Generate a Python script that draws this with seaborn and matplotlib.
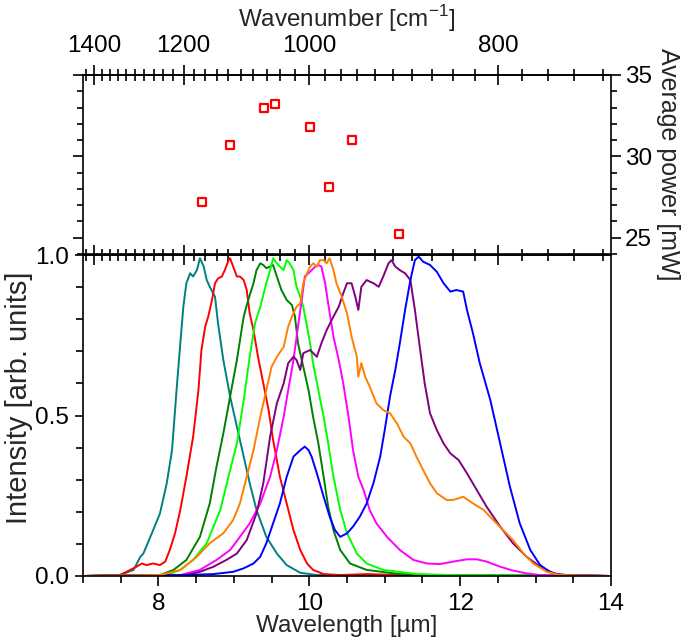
import numpy as np
import matplotlib
matplotlib.use("Agg")
import matplotlib.pyplot as plt
from matplotlib import font_manager
from matplotlib.ticker import FixedLocator, MultipleLocator, FormatStrFormatter
import seaborn as sns

# --- Average power vs. wavelength (top panel) ---
power_wl = [8.58, 8.95, 9.40, 9.54, 10.01, 10.26, 10.57, 11.19]
power_mw = [27.2, 30.7, 33.0, 33.2, 31.8, 28.1, 31.0, 25.2]

# --- Normalized spectra (bottom panel) ---
teal_wl = [7.0, 7.49, 7.67, 7.76, 7.80, 7.93, 8.02, 8.11, 8.18, 8.24, 8.29, 8.33, 8.37, 8.42, 8.46, 8.51, 8.55,
           8.60, 8.64, 8.68, 8.75, 8.79, 8.86, 8.95, 9.04, 9.13, 9.21, 9.30, 9.43, 9.57, 9.70, 9.88, 10.10, 14.0]
teal_i = [0.0, 0.003, 0.019, 0.060, 0.070, 0.143, 0.195, 0.289, 0.392, 0.579, 0.725, 0.839, 0.912, 0.943, 0.933,
          0.953, 0.990, 0.964, 0.922, 0.901, 0.870, 0.787, 0.673, 0.559, 0.465, 0.372, 0.289, 0.206, 0.122, 0.070,
          0.034, 0.010, 0.003, 0.0]

red_wl = [7.0, 7.49, 7.71, 7.78, 7.84, 7.93, 8.02, 8.09, 8.15, 8.22, 8.29, 8.37, 8.46, 8.53, 8.57, 8.62, 8.66, 8.71,
          8.75, 8.79, 8.84, 8.88, 8.93, 8.95, 8.99, 9.04, 9.08, 9.13, 9.17, 9.21, 9.26, 9.32, 9.39, 9.46, 9.52, 9.61,
          9.70, 9.79, 9.88, 9.97, 10.05, 10.19, 10.41, 10.76, 11.20, 14.0]
red_i = [0.0, 0.003, 0.029, 0.039, 0.034, 0.039, 0.034, 0.045, 0.081, 0.133, 0.206, 0.309, 0.434, 0.579, 0.704, 0.777,
         0.808, 0.860, 0.912, 0.927, 0.933, 0.953, 0.984, 0.990, 0.964, 0.933, 0.933, 0.922, 0.891, 0.818, 0.766,
         0.683, 0.600, 0.517, 0.424, 0.309, 0.226, 0.143, 0.081, 0.039, 0.019, 0.006, 0.003, 0.006, 0.003, 0.0]

green_wl = [7.0, 8.02, 8.20, 8.37, 8.55, 8.68, 8.77, 8.86, 8.95, 9.04, 9.13, 9.19, 9.26, 9.30, 9.35, 9.39, 9.43, 9.48,
            9.52, 9.57, 9.63, 9.70, 9.77, 9.81, 9.85, 9.92, 9.99, 10.05, 10.12, 10.19, 10.25, 10.32, 10.41, 10.54,
            10.76, 11.20, 11.64, 14.0]
green_i = [0.0, 0.003, 0.019, 0.050, 0.122, 0.226, 0.341, 0.444, 0.559, 0.673, 0.808, 0.860, 0.912, 0.953, 0.974,
           0.969, 0.959, 0.964, 0.969, 0.933, 0.891, 0.860, 0.844, 0.808, 0.725, 0.652, 0.579, 0.496, 0.413, 0.309,
           0.216, 0.143, 0.081, 0.039, 0.019, 0.006, 0.003, 0.0]

lime_wl = [7.0, 8.11, 8.29, 8.46, 8.64, 8.82, 8.95, 9.04, 9.13, 9.21, 9.28, 9.35, 9.43, 9.48, 9.52, 9.57, 9.61, 9.66,
           9.70, 9.74, 9.79, 9.83, 9.88, 9.92, 9.97, 10.01, 10.05, 10.12, 10.19, 10.25, 10.32, 10.41, 10.50, 10.63,
           10.76, 10.98, 11.42, 11.87, 14.0]
lime_i = [0.0, 0.003, 0.019, 0.050, 0.102, 0.206, 0.330, 0.413, 0.548, 0.683, 0.787, 0.839, 0.912, 0.953, 0.990,
          0.974, 0.964, 0.953, 0.984, 0.974, 0.953, 0.901, 0.870, 0.839, 0.777, 0.725, 0.663, 0.579, 0.496, 0.413,
          0.309, 0.206, 0.133, 0.070, 0.039, 0.019, 0.006, 0.003, 0.0]

magenta_wl = [7.0, 8.29, 8.55, 8.77, 8.95, 9.08, 9.21, 9.35, 9.48, 9.57, 9.66, 9.72, 9.79, 9.85, 9.90, 9.94, 10.01,
              10.08, 10.12, 10.16, 10.21, 10.25, 10.32, 10.39, 10.45, 10.52, 10.58, 10.65, 10.72, 10.80, 10.89, 11.03,
              11.20, 11.38, 11.56, 11.73, 11.91, 12.09, 12.22, 12.35, 12.53, 12.70, 12.88, 13.06, 14.0]
magenta_i = [0.0, 0.003, 0.019, 0.050, 0.081, 0.122, 0.164, 0.226, 0.309, 0.392, 0.496, 0.579, 0.673, 0.777, 0.860,
             0.933, 0.948, 0.964, 0.969, 0.964, 0.912, 0.849, 0.746, 0.673, 0.600, 0.496, 0.392, 0.309, 0.268, 0.206,
             0.164, 0.122, 0.081, 0.050, 0.039, 0.037, 0.045, 0.052, 0.052, 0.045, 0.029, 0.017, 0.008, 0.003, 0.0]

purple_wl = [7.0, 8.37, 8.55, 8.73, 8.90, 9.04, 9.17, 9.30, 9.39, 9.48, 9.57, 9.66, 9.72, 9.79, 9.83, 9.88, 9.92,
             10.01, 10.10, 10.16, 10.23, 10.32, 10.39, 10.45, 10.50, 10.56, 10.61, 10.65, 10.69, 10.76, 10.85, 10.92,
             10.98, 11.05, 11.09, 11.14, 11.20, 11.27, 11.34, 11.40, 11.47, 11.53, 11.60, 11.69, 11.78, 11.87, 11.98,
             12.09, 12.22, 12.35, 12.53, 12.70, 12.88, 13.06, 13.24, 13.41, 14.0]
purple_i = [0.0, 0.003, 0.013, 0.029, 0.050, 0.070, 0.112, 0.195, 0.289, 0.434, 0.538, 0.600, 0.663, 0.683, 0.673,
            0.642, 0.694, 0.704, 0.683, 0.725, 0.766, 0.808, 0.839, 0.881, 0.912, 0.912, 0.870, 0.829, 0.901, 0.922,
            0.912, 0.901, 0.933, 0.974, 0.984, 0.964, 0.953, 0.943, 0.922, 0.829, 0.704, 0.600, 0.507, 0.455, 0.413,
            0.382, 0.361, 0.320, 0.268, 0.216, 0.154, 0.102, 0.060, 0.029, 0.008, 0.003, 0.0]

blue_wl = [7.0, 8.37, 8.73, 8.99, 9.13, 9.26, 9.35, 9.43, 9.52, 9.61, 9.70, 9.79, 9.88, 9.94, 9.99, 10.03, 10.10,
           10.19, 10.27, 10.34, 10.41, 10.50, 10.58, 10.67, 10.76, 10.85, 10.94, 11.00, 11.07, 11.14, 11.20, 11.27,
           11.34, 11.40, 11.45, 11.51, 11.60, 11.69, 11.78, 11.87, 11.95, 12.04, 12.09, 12.17, 12.26, 12.40, 12.53,
           12.66, 12.79, 12.93, 13.06, 13.19, 13.32, 14.0]
blue_i = [0.0, 0.003, 0.006, 0.013, 0.024, 0.039, 0.060, 0.102, 0.164, 0.226, 0.309, 0.372, 0.392, 0.403, 0.392,
          0.372, 0.320, 0.247, 0.185, 0.143, 0.122, 0.133, 0.154, 0.185, 0.226, 0.289, 0.372, 0.455, 0.559, 0.642,
          0.725, 0.829, 0.922, 0.984, 0.995, 0.979, 0.969, 0.948, 0.912, 0.886, 0.891, 0.886, 0.829, 0.756, 0.663,
          0.548, 0.413, 0.278, 0.164, 0.081, 0.034, 0.013, 0.003, 0.0]

orange_wl = [7.0, 8.02, 8.29, 8.51, 8.68, 8.86, 8.99, 9.08, 9.17, 9.26, 9.35, 9.43, 9.50, 9.57, 9.66, 9.72, 9.77,
             9.83, 9.88, 9.92, 9.97, 10.01, 10.05, 10.10, 10.14, 10.19, 10.23, 10.27, 10.32, 10.36, 10.43, 10.50,
             10.56, 10.63, 10.65, 10.69, 10.74, 10.80, 10.89, 10.98, 11.07, 11.16, 11.25, 11.34, 11.42, 11.51, 11.60,
             11.69, 11.82, 11.91, 12.04, 12.17, 12.31, 12.44, 12.57, 12.70, 12.84, 12.97, 13.15, 13.32, 14.0]
orange_i = [0.0, 0.003, 0.019, 0.060, 0.102, 0.133, 0.174, 0.226, 0.309, 0.392, 0.496, 0.579, 0.652, 0.683, 0.714,
            0.777, 0.808, 0.839, 0.849, 0.912, 0.943, 0.964, 0.974, 0.964, 0.984, 0.984, 0.974, 0.990, 0.953, 0.912,
            0.870, 0.818, 0.746, 0.683, 0.621, 0.663, 0.621, 0.590, 0.538, 0.517, 0.507, 0.476, 0.434, 0.413, 0.372,
            0.330, 0.289, 0.258, 0.237, 0.237, 0.247, 0.226, 0.206, 0.174, 0.143, 0.112, 0.070, 0.039, 0.013, 0.003,
            0.0]

spectra = [
    (teal_wl, teal_i, "#008080"),
    (red_wl, red_i, "#ff0000"),
    (green_wl, green_i, "#008000"),
    (lime_wl, lime_i, "#00ff00"),
    (magenta_wl, magenta_i, "#ff00ff"),
    (purple_wl, purple_i, "#800080"),
    (blue_wl, blue_i, "#0000ff"),
    (orange_wl, orange_i, "#ff8000"),
]

wn_ticks = [1400, 1200, 1000, 800]
wn_minor = np.arange(720, 1440, 20)


def wavenumber(x):
    x = np.asarray(x, dtype=float)
    with np.errstate(divide="ignore"):
        return 1e4 / x


# the reference text is tall and narrow, a narrow face gets closest
installed = {f.name for f in font_manager.fontManager.ttflist}
if "Liberation Sans Narrow" in installed:
    narrow, hsize = "Liberation Sans Narrow", 21
else:
    narrow, hsize = "Liberation Sans", 17.5
regular = ["Liberation Sans", "DejaVu Sans"]

sns.set_style("ticks")
plt.rcParams["font.family"] = [narrow, "DejaVu Sans"]
plt.rcParams["mathtext.fontset"] = "custom"
plt.rcParams["mathtext.rm"] = narrow
plt.rcParams["font.size"] = hsize
plt.rcParams["axes.linewidth"] = 1.2
plt.rcParams["axes.edgecolor"] = "black"
plt.rcParams["xtick.color"] = "black"
plt.rcParams["ytick.color"] = "black"

fig = plt.figure(figsize=(6.85, 6.43), dpi=100)
ax_p = fig.add_axes([0.1212, 0.605, 0.7708, 0.2784])
ax_s = fig.add_axes([0.1212, 0.1042, 0.7708, 0.4992])

# --- top panel: average power ---
sns.scatterplot(x=power_wl, y=power_mw, marker="s", s=38, color="white", edgecolor="red",
                linewidth=1.6, ax=ax_p, zorder=3)
ax_p.set_xlim(7, 14)
ax_p.set_ylim(24, 35)
ax_p.yaxis.set_major_locator(MultipleLocator(5))
ax_p.yaxis.set_minor_locator(MultipleLocator(1))
ax_p.tick_params(axis="x", which="both", bottom=False, top=False, labelbottom=False)
ax_p.tick_params(axis="y", which="both", left=True, right=True, labelleft=False, labelright=True,
                 direction="out", width=1.2, pad=3)
ax_p.tick_params(axis="y", which="major", length=7)
ax_p.tick_params(axis="y", which="minor", length=4)
ax_p.yaxis.set_label_position("right")
ax_p.set_ylabel("Average power [mW]", rotation=270, labelpad=20, family=regular, fontsize=18)
ax_p.set_xlabel("")

sec = ax_p.secondary_xaxis("top", functions=(wavenumber, wavenumber))
sec.set_xticks(wn_ticks)
sec.xaxis.set_minor_locator(FixedLocator(wn_minor))
sec.tick_params(which="both", direction="inout", width=1.2)
sec.tick_params(which="major", length=14, pad=6)
sec.tick_params(which="minor", length=8)
sec.set_xlabel("Wavenumber [cm$^{-1}$]", labelpad=6)

# --- bottom panel: spectra ---
for wl, inten, col in spectra:
    sns.lineplot(x=wl, y=inten, color=col, linewidth=1.4, ax=ax_s)

ax_s.set_xlim(7, 14)
ax_s.set_ylim(0, 1)
ax_s.xaxis.set_major_locator(MultipleLocator(2))
ax_s.xaxis.set_minor_locator(MultipleLocator(0.5))
ax_s.yaxis.set_major_locator(MultipleLocator(0.5))
ax_s.yaxis.set_minor_locator(MultipleLocator(0.1))
ax_s.yaxis.set_major_formatter(FormatStrFormatter("%.1f"))
ax_s.tick_params(which="both", direction="out", top=False, right=False, width=1.2)
ax_s.tick_params(axis="x", which="major", length=7, pad=5)
ax_s.tick_params(axis="y", which="major", length=6, pad=4)
ax_s.tick_params(which="minor", length=5)
ax_s.set_xlabel("Wavelength [µm]", labelpad=0)
ax_s.set_ylabel("Intensity [arb. units]", family=regular, fontsize=21)
ax_s.yaxis.set_label_coords(-0.095, 0.555)

sec2 = ax_s.secondary_xaxis("top", functions=(wavenumber, wavenumber))
sec2.set_xticks(wn_ticks)
sec2.xaxis.set_minor_locator(FixedLocator(wn_minor))
sec2.tick_params(which="both", direction="inout", width=1.2, labeltop=False)
sec2.tick_params(which="major", length=14)
sec2.tick_params(which="minor", length=8)

fig.savefig("out.png", dpi=100)
